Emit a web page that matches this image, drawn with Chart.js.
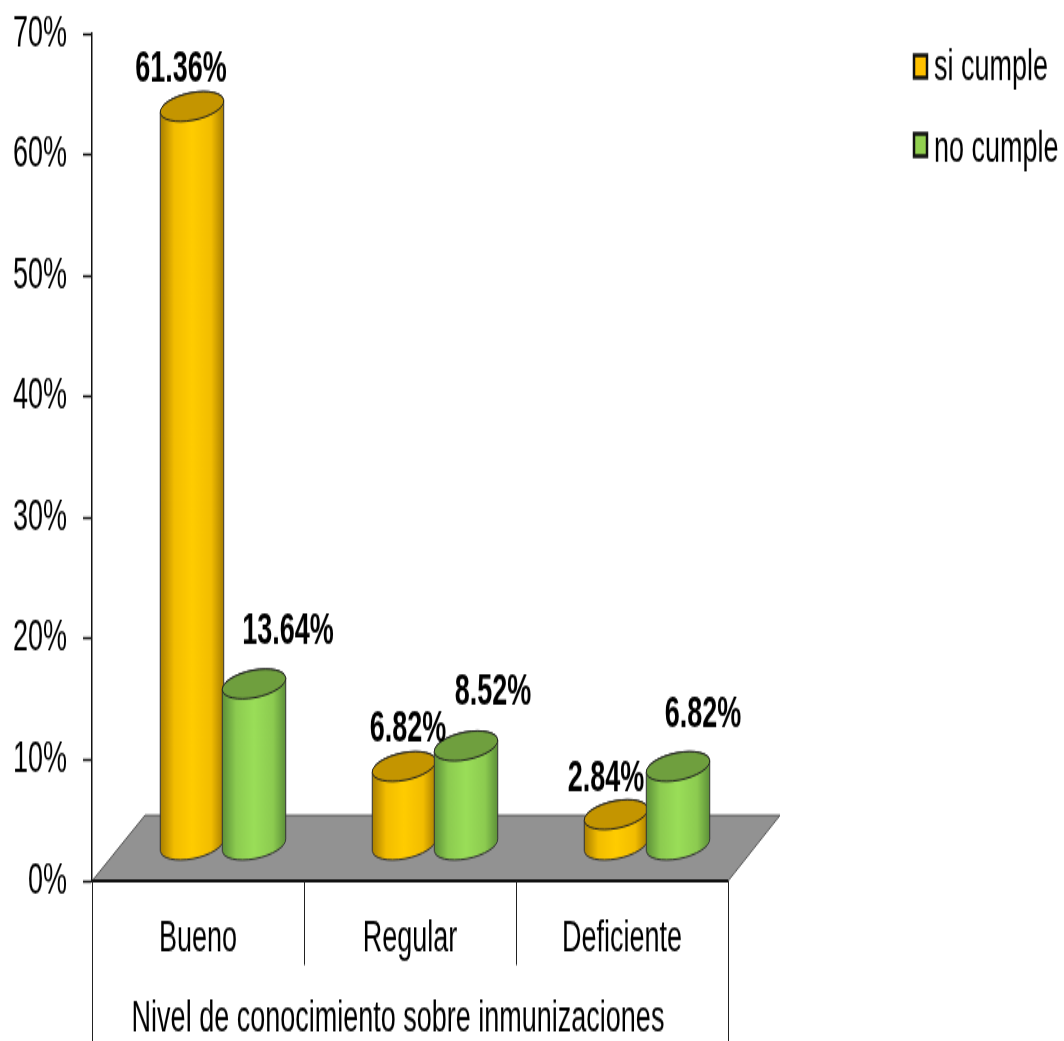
<!DOCTYPE html>
<html>
<head>
<meta charset="utf-8">
<script src="https://cdn.jsdelivr.net/npm/chart.js@4"></script>
<style>
html,body{margin:0;padding:0;background:#fff;overflow:hidden;width:1064px;height:1041px}
canvas{display:block;transform-origin:0 0;transform:scaleY(1.6015);filter:blur(0.4px)}
</style>
</head>
<body>
<canvas id="c" width="1064" height="650"></canvas>
<script>
const categories = ['Bueno', 'Regular', 'Deficiente'];
const siCumple = [61.36, 6.82, 2.84];
const noCumple = [13.64, 8.52, 6.82];
const seriesNames = ['si cumple', 'no cumple'];
const yTicks = [0, 10, 20, 30, 40, 50, 60, 70];
const axisTitle = 'Nivel de conocimiento sobre inmunizaciones';

const FONT = '"Liberation Sans", Arial, sans-serif';
const FS = 27;
const skins = [
  {edge:'#a87e00', near:'#f2bd00', mid:'#ffcc00', top:'#c49500', key:'#ffc000'},
  {edge:'#5c8f38', near:'#8ccb50', mid:'#9ade58', top:'#6f9f3e', key:'#92d050'}
];
// label nudges from each cylinder's top centre [dataset][category]
const nudge = [
  [[-11,-23],[4,-23],[-10,-22]],
  [[34,-32],[27,-33],[25,-32]]
];

const cylinders = {
  id:'cylinders',
  beforeDatasetsDraw(chart){
    const {ctx, chartArea:a, scales:{y}} = chart;
    const y0 = y.getPixelForValue(0);
    ctx.save();
    ctx.beginPath();
    ctx.moveTo(a.left, y0);
    ctx.lineTo(a.right, y0);
    ctx.lineTo(a.right+52, y0-41);
    ctx.lineTo(a.left+53, y0-41);
    ctx.closePath();
    ctx.fillStyle = '#929292';
    ctx.fill();
    ctx.strokeStyle = '#555';
    ctx.lineWidth = 1;
    ctx.stroke();
    ctx.beginPath();
    ctx.moveTo(a.left, y0);
    ctx.lineTo(a.right, y0);
    ctx.strokeStyle = '#111';
    ctx.lineWidth = 2;
    ctx.stroke();
    ctx.restore();
  },
  afterDatasetsDraw(chart){
    const {ctx, chartArea:a, scales:{x, y}} = chart;
    const rot = -6.7*Math.PI/180;
    const shiftX = 25, baseUp = 22, topUp = 20;
    ctx.save();
    categories.forEach((_, i) => {
      [0,1].forEach(d => {
        const el = chart.getDatasetMeta(d).data[i];
        const cx = el.x + shiftX, rx = el.width/2, ry = 8.6;
        const ty = el.y - topUp, by = el.base - baseUp;
        const s = skins[d];
        const g = ctx.createLinearGradient(cx-rx,0,cx+rx,0);
        g.addColorStop(0, s.edge);
        g.addColorStop(0.22, s.near);
        g.addColorStop(0.5, s.mid);
        g.addColorStop(0.8, s.near);
        g.addColorStop(1, s.edge);
        ctx.beginPath();
        ctx.ellipse(cx,by,rx,ry,rot,Math.PI,0,true);
        ctx.ellipse(cx,ty,rx,ry,rot,0,Math.PI,true);
        ctx.closePath();
        ctx.fillStyle = g;
        ctx.fill();
        ctx.strokeStyle = '#333';
        ctx.lineWidth = 1;
        ctx.stroke();
        ctx.beginPath();
        ctx.ellipse(cx,ty,rx,ry,rot,0,Math.PI*2);
        ctx.fillStyle = s.top;
        ctx.fill();
        ctx.strokeStyle = '#222';
        ctx.stroke();
      });
    });
    // value labels
    ctx.font = 'bold '+FS+'px '+FONT;
    ctx.fillStyle = '#000';
    ctx.textAlign = 'center';
    ctx.textBaseline = 'middle';
    categories.forEach((_, i) => {
      [0,1].forEach(d => {
        const el = chart.getDatasetMeta(d).data[i];
        const v = chart.data.datasets[d].data[i];
        ctx.fillText(v.toFixed(2)+'%', el.x+shiftX+nudge[d][i][0], el.y-topUp+nudge[d][i][1]);
      });
    });
    // category dividers
    const yb = y.getPixelForValue(0);
    const step = (a.right-a.left)/categories.length;
    ctx.strokeStyle = '#222';
    ctx.lineWidth = 1;
    for(let k=0;k<=categories.length;k++){
      const lx = Math.round(a.left+k*step)+0.5;
      const outer = k===0||k===categories.length;
      ctx.beginPath();
      ctx.moveTo(lx,yb);
      ctx.lineTo(lx,outer?chart.height:yb+52.5);
      ctx.stroke();
    }
    // multi-level axis title
    ctx.font = FS+'px '+FONT;
    ctx.fillStyle = '#000';
    ctx.fillText(axisTitle, 398, 637);
    // legend
    const keyRows = [41.5, 90.5];
    const textRows = [43, 93.5];
    ctx.textAlign = 'left';
    seriesNames.forEach((name,d)=>{
      ctx.fillStyle = skins[d].key;
      ctx.strokeStyle = '#111';
      ctx.lineWidth = 2.5;
      ctx.fillRect(914,keyRows[d]-7,13,14);
      ctx.strokeRect(914,keyRows[d]-7,13,14);
      ctx.fillStyle = '#000';
      ctx.fillText(name,934,textRows[d]);
    });
    ctx.restore();
  }
};

new Chart(document.getElementById('c'),{
  type:'bar',
  data:{
    labels:categories,
    datasets:[
      {label:seriesNames[0],data:siCumple,backgroundColor:'transparent'},
      {label:seriesNames[1],data:noCumple,backgroundColor:'transparent'}
    ]
  },
  options:{
    responsive:false,
    animation:false,
    devicePixelRatio:1,
    layout:{padding:{top:21.2,right:336,left:0,bottom:0}},
    datasets:{bar:{categoryPercentage:0.585,barPercentage:1.03}},
    plugins:{legend:{display:false},title:{display:false},tooltip:{enabled:false}},
    scales:{
      x:{
        grid:{display:false},
        border:{display:false},
        ticks:{color:'#000',font:{family:FONT,size:FS},padding:12,maxRotation:0},
        afterFit(s){s.height=99.9;s.paddingLeft=0;s.paddingRight=0;}
      },
      y:{
        min:0,max:70,
        afterBuildTicks(s){s.ticks=yTicks.map(v=>({value:v}));},
        afterFit(s){s.width=92;s.paddingTop=0;s.paddingBottom=0;},
        grid:{drawOnChartArea:false,tickLength:9,tickColor:'#111',tickWidth:1.5},
        border:{display:true,color:'#111',width:1.5},
        ticks:{color:'#000',font:{family:FONT,size:FS},padding:16,callback:v=>v+'%'}
      }
    }
  },
  plugins:[cylinders]
});
</script>
</body>
</html>
